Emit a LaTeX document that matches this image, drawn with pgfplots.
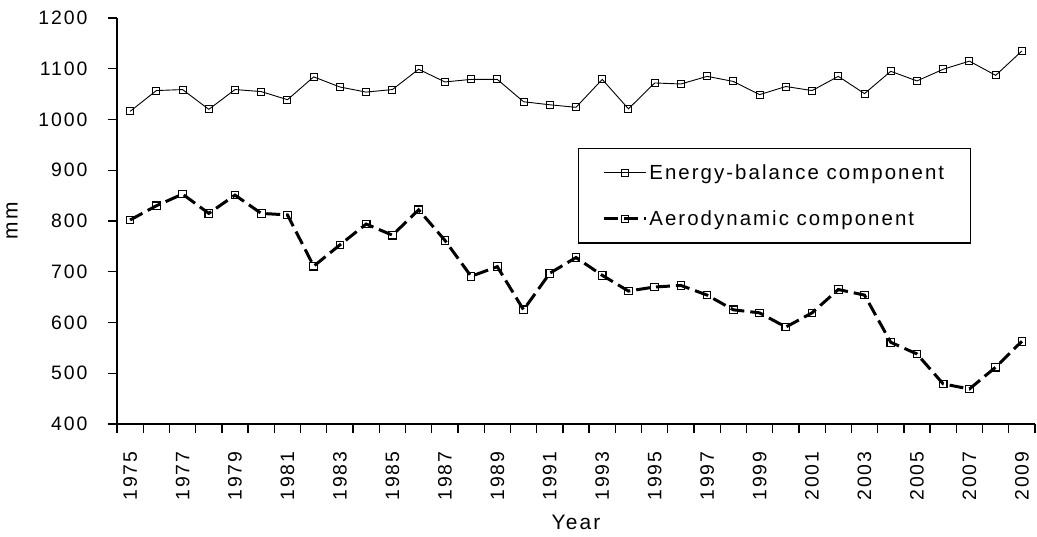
\documentclass[border=0pt]{standalone}
\usepackage{fontspec}
\setmainfont[LetterSpace=10]{Liberation Sans}
\usepackage{pgfplots}
\pgfplotsset{compat=1.18}
\usetikzlibrary{calc}
\begin{document}
\begin{tikzpicture}
\begin{axis}[
  scale only axis, width=918bp, height=406bp,
  xmin=1974.5, xmax=2009.5, ymin=400, ymax=1200,
  axis lines=left,
  axis line style={line width=1.6bp, -},
  ytick={400,500,...,1200},
  xtick={1975,1977,...,2009},
  minor xtick={1974.5,1975.5,...,2009.5},
  major x tick style={draw=none},
  tick style={black, line width=1.3bp},
  tick align=outside,
  major tick length=9bp, minor tick length=9bp,
  /pgf/number format/assume math mode=true,
  /pgf/number format/set thousands separator={},
  tick label style={font=\fontsize{19.5}{21}\selectfont},
  yticklabel style={xshift=-17bp},
  xticklabel style={yshift=-15bp, rotate=90, anchor=east},
  xlabel={Year}, ylabel={mm},
  label style={font=\fontsize{21}{23}\selectfont},
  xlabel style={yshift=-8bp},
  ylabel style={yshift=14bp},
  legend style={at={(0.502,0.68)}, anchor=north west, draw=black, line width=1.2bp,
    font=\fontsize{20.5}{24}\selectfont, inner xsep=24bp, inner ysep=14bp,
    row sep=26bp},
  legend cell align=left,
  legend image code/.code={\draw[#1] (0bp,0bp) -- (42bp,0bp); \draw[#1, solid, mark repeat=1] plot coordinates {(21bp,0bp)};},
]
\addplot[black, line width=0.9bp, mark=square, mark size=3.5bp, mark options={solid, line width=1bp, fill=white}] coordinates {
(1975,1016) (1976,1057) (1977,1059) (1978,1020) (1979,1059) (1980,1055) (1981,1039) (1982,1084) (1983,1064) (1984,1054) (1985,1059) (1986,1099)
(1987,1074) (1988,1079) (1989,1079) (1990,1035) (1991,1029) (1992,1024) (1993,1079) (1994,1021) (1995,1072) (1996,1070) (1997,1085)
(1998,1075) (1999,1049) (2000,1065) (2001,1057) (2002,1085) (2003,1051) (2004,1095) (2005,1076) (2006,1099) (2007,1115) (2008,1087) (2009,1135)
};
\addlegendentry{Energy-balance component}
\addplot[black, line width=3bp, dash pattern=on 14bp off 6bp, mark=square, mark size=3.8bp, mark options={solid, line width=1.1bp, fill=white}] coordinates {
(1975,802) (1976,830) (1977,853) (1978,815) (1979,851) (1980,815) (1981,812) (1982,711) (1983,753) (1984,794) (1985,772) (1986,822)
(1987,762) (1988,691) (1989,710) (1990,625) (1991,697) (1992,728) (1993,693) (1994,662) (1995,670) (1996,673) (1997,654)
(1998,625) (1999,619) (2000,591) (2001,619) (2002,665) (2003,654) (2004,561) (2005,538) (2006,479) (2007,469) (2008,512) (2009,563)
};
\addlegendentry{Aerodynamic component}
\end{axis}
\pgfresetboundingbox
\useasboundingbox ($(current axis.south west)+(-117bp,-113bp)$) rectangle ($(current axis.north east)+(2bp,18bp)$);
\end{tikzpicture}
\end{document}
